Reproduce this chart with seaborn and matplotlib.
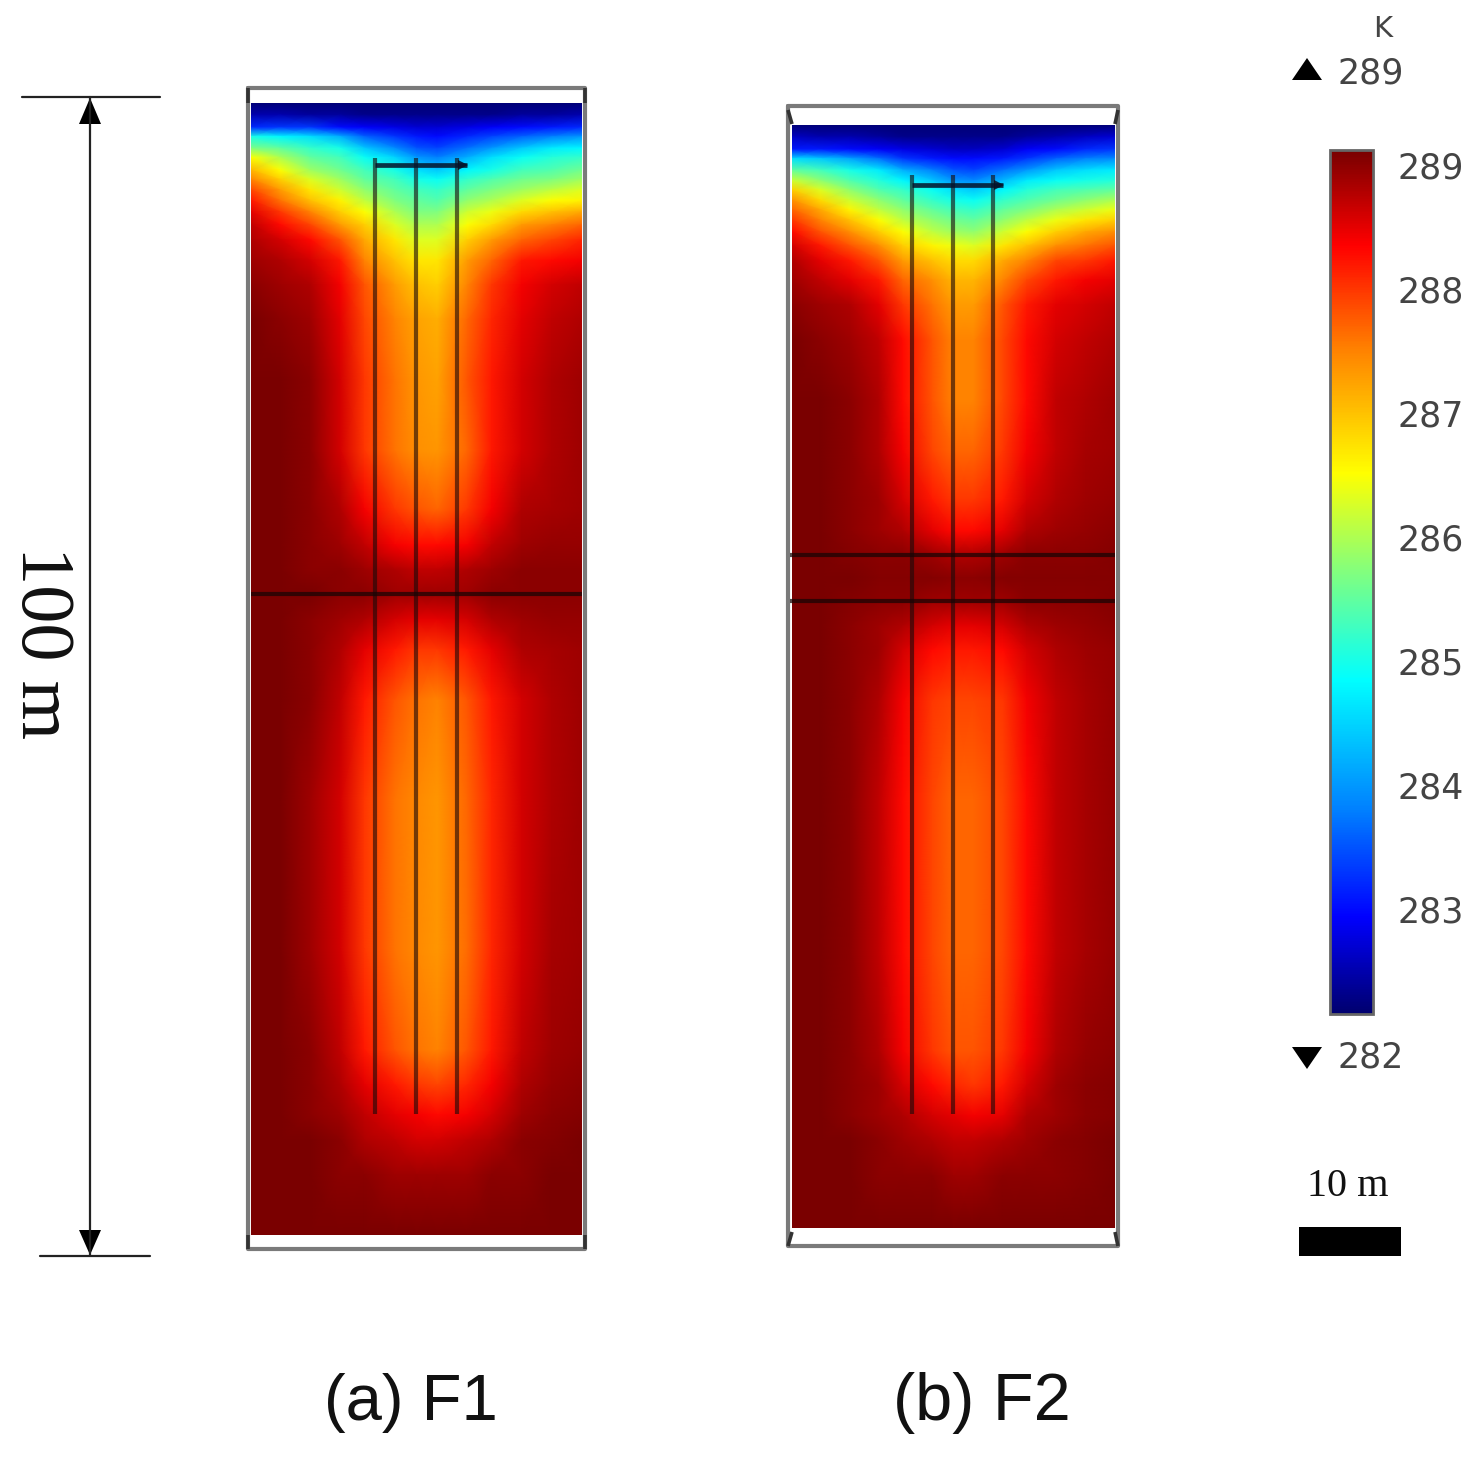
import numpy as np
import matplotlib
matplotlib.use("Agg")
import matplotlib.pyplot as plt
from matplotlib.colors import LinearSegmentedColormap
import seaborn as sns

W, H = 1484, 1462
T_MIN, T_MAX = 282.15, 289.12
CBAR_TICKS = [283, 284, 285, 286, 287, 288, 289]
PANEL_LABELS = ["(a) F1", "(b) F2"]

# colour ramp (fraction, RGB)
RAMP_POS = [0, 0.112, 0.236, 0.387, 0.510, 0.626, 0.771, 0.890, 1]
RAMP_RGB = ["#00006e", "#0000ff", "#0080ff", "#00ffff", "#80ff80", "#ffff00", "#ff8000", "#ff0000", "#780000"]

# horizontal position of each column, metres from the left of the domain
COLUMN_M = [0, 2.5, 5.1, 7.7, 9.8, 12.4, 14.3, 16.1, 18.7, 20.8, 23.4, 26.0, 28.6]

# panel (a): depth of each row (m) and temperature (K)
DEPTH_A = [0, 1.0, 2.1, 2.9, 3.9, 4.7, 5.8, 6.6, 7.5, 8.4, 9.4, 10.5, 11.8, 13.6, 15.7, 18.7,
           23.9, 30.0, 35.1, 38.2, 40.3, 42.4, 44.6, 47.2, 51.6, 60.2, 73.1, 81.8, 84.8,
           87.4, 89.6, 92.6, 97.8]
TEMP_A = [
    [282.2, 282.2, 282.2, 282.2, 282.2, 282.2, 282.2, 282.2, 282.2, 282.2, 282.2, 282.2, 282.2],
    [282.5, 282.5, 282.4, 282.4, 282.3, 282.3, 282.3, 282.3, 282.3, 282.3, 282.4, 282.4, 282.5],
    [283.2, 283.3, 283.3, 283.0, 282.9, 282.8, 282.7, 282.7, 282.8, 282.9, 283.0, 283.1, 283.2],
    [285.0, 284.8, 284.6, 284.2, 283.6, 283.3, 283.1, 283.0, 283.2, 283.4, 283.6, 283.8, 284.0],
    [285.7, 285.5, 285.2, 285.0, 284.4, 283.9, 283.5, 283.4, 283.7, 284.0, 284.4, 284.7, 284.8],
    [286.5, 286.0, 285.5, 285.3, 284.9, 284.5, 284.0, 283.8, 284.2, 284.6, 284.9, 285.1, 285.2],
    [287.1, 286.5, 285.9, 285.6, 285.3, 285.0, 284.6, 284.4, 284.8, 285.0, 285.3, 285.4, 285.6],
    [287.5, 286.9, 286.3, 285.9, 285.5, 285.3, 285.0, 284.9, 285.2, 285.4, 285.6, 285.7, 285.9],
    [287.9, 287.3, 286.7, 286.2, 285.8, 285.5, 285.3, 285.2, 285.5, 285.7, 285.9, 286.1, 286.3],
    [288.2, 287.6, 287.0, 286.6, 286.1, 285.7, 285.5, 285.4, 285.8, 286.0, 286.3, 286.5, 286.6],
    [288.5, 288.0, 287.5, 286.9, 286.5, 286.0, 285.7, 285.7, 286.2, 286.4, 286.8, 287.0, 287.2],
    [288.7, 288.3, 287.9, 287.3, 286.9, 286.3, 286.0, 286.0, 286.5, 286.8, 287.3, 287.5, 287.7],
    [288.8, 288.6, 288.3, 287.8, 287.2, 286.7, 286.3, 286.3, 286.9, 287.3, 287.7, 287.9, 288.1],
    [288.9, 288.8, 288.6, 288.2, 287.5, 287.0, 286.7, 286.7, 287.3, 287.7, 288.2, 288.3, 288.4],
    [289.0, 288.9, 288.8, 288.4, 287.8, 287.3, 287.0, 286.9, 287.5, 288.0, 288.4, 288.6, 288.7],
    [289.1, 289.0, 288.9, 288.5, 287.9, 287.5, 287.25, 287.15, 287.7, 288.1, 288.5, 288.7, 288.8],
    [289.1, 289.1, 289.0, 288.6, 288.0, 287.6, 287.35, 287.25, 287.8, 288.2, 288.6, 288.8, 288.9],
    [289.1, 289.1, 289.0, 288.6, 288.0, 287.6, 287.4, 287.35, 287.7, 288.2, 288.6, 288.8, 288.9],
    [289.1, 289.1, 289.0, 288.8, 288.4, 288.0, 287.8, 287.7, 288.0, 288.4, 288.8, 288.85, 288.9],
    [289.1, 289.1, 289.0, 288.9, 288.7, 288.4, 288.3, 288.3, 288.4, 288.7, 288.9, 288.95, 288.95],
    [289.1, 289.1, 289.0, 289.0, 288.9, 288.8, 288.7, 288.7, 288.8, 288.9, 289.0, 289.0, 289.0],
    [289.1, 289.1, 289.1, 289.0, 289.0, 288.9, 288.9, 288.9, 288.9, 289.0, 289.0, 289.0, 289.0],
    [289.1, 289.1, 289.0, 288.9, 288.8, 288.6, 288.5, 288.5, 288.6, 288.8, 288.9, 288.95, 288.95],
    [289.1, 289.1, 289.0, 288.8, 288.5, 288.2, 288.0, 288.0, 288.2, 288.5, 288.8, 288.85, 288.9],
    [289.1, 289.1, 289.0, 288.7, 288.2, 287.8, 287.6, 287.5, 287.8, 288.2, 288.6, 288.8, 288.9],
    [289.1, 289.1, 288.9, 288.6, 288.0, 287.6, 287.45, 287.35, 287.7, 288.1, 288.6, 288.8, 288.9],
    [289.1, 289.1, 288.9, 288.6, 288.0, 287.6, 287.45, 287.35, 287.65, 288.1, 288.6, 288.85, 288.9],
    [289.1, 289.1, 289.0, 288.7, 288.2, 287.8, 287.6, 287.5, 287.8, 288.2, 288.7, 288.9, 288.95],
    [289.1, 289.1, 289.0, 288.8, 288.5, 288.2, 288.0, 287.9, 288.1, 288.4, 288.8, 288.95, 289.0],
    [289.1, 289.1, 289.0, 288.9, 288.7, 288.5, 288.4, 288.3, 288.4, 288.6, 288.9, 289.0, 289.05],
    [289.1, 289.1, 289.1, 289.0, 288.8, 288.7, 288.6, 288.6, 288.7, 288.8, 289.0, 289.05, 289.1],
    [289.1, 289.1, 289.1, 289.0, 289.0, 288.9, 288.9, 288.9, 288.9, 289.0, 289.0, 289.1, 289.1],
    [289.1, 289.1, 289.1, 289.1, 289.1, 289.1, 289.1, 289.1, 289.1, 289.1, 289.1, 289.1, 289.1],
]

# panel (b): depth of each row (m) and temperature (K)
DEPTH_B = [0, 1.0, 2.1, 2.9, 3.9, 4.8, 5.6, 6.5, 7.3, 8.2, 9.2, 10.4, 11.7, 13.4, 15.5, 18.6,
           23.7, 28.1, 32.4, 35.0, 37.1, 39.1, 41.1, 43.2, 45.3, 49.7, 58.3, 71.3, 79.9,
           82.9, 85.5, 87.7, 90.7, 95.2]
TEMP_B = [
    [282.2, 282.2, 282.2, 282.2, 282.2, 282.2, 282.2, 282.2, 282.2, 282.2, 282.2, 282.2, 282.2],
    [282.6, 282.5, 282.5, 282.4, 282.3, 282.3, 282.3, 282.3, 282.3, 282.4, 282.5, 282.6, 282.7],
    [283.1, 283.1, 283.0, 282.9, 282.8, 282.7, 282.6, 282.6, 282.7, 282.9, 283.0, 283.2, 283.3],
    [284.6, 284.4, 284.1, 283.7, 283.3, 283.1, 283.0, 283.0, 283.1, 283.3, 283.6, 283.8, 283.9],
    [285.5, 285.3, 285.0, 284.7, 284.2, 283.8, 283.5, 283.4, 283.7, 284.0, 284.4, 284.6, 284.7],
    [286.2, 285.8, 285.4, 285.1, 284.8, 284.4, 284.0, 283.9, 284.3, 284.7, 284.9, 285.0, 285.1],
    [286.9, 286.3, 285.8, 285.4, 285.2, 284.9, 284.6, 284.4, 284.8, 285.1, 285.3, 285.4, 285.5],
    [287.4, 286.8, 286.2, 285.8, 285.5, 285.2, 285.0, 284.9, 285.2, 285.4, 285.6, 285.8, 286.0],
    [287.7, 287.2, 286.6, 286.1, 285.8, 285.5, 285.3, 285.2, 285.5, 285.7, 286.0, 286.2, 286.4],
    [288.0, 287.5, 287.0, 286.5, 286.1, 285.8, 285.6, 285.5, 285.8, 286.1, 286.4, 286.7, 286.9],
    [288.3, 287.8, 287.4, 286.9, 286.5, 286.1, 285.9, 285.8, 286.2, 286.5, 286.9, 287.2, 287.4],
    [288.6, 288.2, 287.8, 287.4, 286.9, 286.6, 286.4, 286.3, 286.7, 287.0, 287.4, 287.6, 287.8],
    [288.8, 288.5, 288.2, 287.8, 287.3, 287.0, 286.8, 286.8, 287.2, 287.5, 287.9, 288.0, 288.2],
    [288.9, 288.7, 288.5, 288.2, 287.7, 287.4, 287.1, 287.1, 287.5, 287.9, 288.2, 288.4, 288.5],
    [289.0, 288.9, 288.8, 288.5, 288.0, 287.6, 287.3, 287.3, 287.8, 288.2, 288.5, 288.6, 288.7],
    [289.1, 289.0, 288.9, 288.7, 288.3, 287.8, 287.5, 287.5, 287.9, 288.3, 288.6, 288.7, 288.8],
    [289.1, 289.1, 289.0, 288.8, 288.3, 287.8, 287.5, 287.5, 287.9, 288.3, 288.7, 288.8, 288.9],
    [289.1, 289.1, 289.0, 288.8, 288.4, 287.9, 287.7, 287.7, 288.0, 288.4, 288.7, 288.85, 288.9],
    [289.1, 289.1, 289.0, 288.9, 288.6, 288.2, 288.0, 288.0, 288.2, 288.6, 288.8, 288.9, 288.95],
    [289.1, 289.1, 289.0, 288.9, 288.8, 288.5, 288.3, 288.3, 288.5, 288.8, 288.9, 288.95, 289.0],
    [289.1, 289.1, 289.05, 289.0, 289.0, 288.9, 288.8, 288.8, 288.9, 289.0, 289.0, 289.0, 289.05],
    [289.1, 289.1, 289.1, 289.05, 289.05, 289.05, 289.0, 289.0, 289.05, 289.05, 289.05, 289.05, 289.05],
    [289.1, 289.1, 289.05, 289.0, 289.0, 288.9, 288.9, 288.9, 288.9, 289.0, 289.0, 289.0, 289.05],
    [289.1, 289.1, 289.0, 288.9, 288.8, 288.6, 288.5, 288.5, 288.6, 288.8, 288.9, 288.95, 289.0],
    [289.1, 289.1, 289.0, 288.9, 288.6, 288.3, 288.2, 288.2, 288.3, 288.6, 288.8, 288.9, 288.95],
    [289.1, 289.1, 289.0, 288.8, 288.4, 288.0, 287.9, 287.9, 288.0, 288.4, 288.7, 288.85, 288.95],
    [289.1, 289.1, 289.0, 288.7, 288.3, 287.9, 287.7, 287.7, 287.9, 288.3, 288.7, 288.85, 288.95],
    [289.1, 289.1, 289.0, 288.7, 288.3, 287.9, 287.7, 287.7, 287.9, 288.3, 288.7, 288.85, 288.95],
    [289.1, 289.1, 289.0, 288.8, 288.4, 288.0, 287.8, 287.8, 288.0, 288.4, 288.8, 288.95, 289.0],
    [289.1, 289.1, 289.0, 288.9, 288.6, 288.3, 288.1, 288.0, 288.2, 288.6, 288.9, 289.0, 289.05],
    [289.1, 289.1, 289.0, 288.9, 288.8, 288.6, 288.5, 288.4, 288.5, 288.8, 288.9, 289.0, 289.05],
    [289.1, 289.1, 289.1, 289.0, 288.9, 288.8, 288.7, 288.7, 288.8, 288.9, 289.0, 289.05, 289.1],
    [289.1, 289.1, 289.1, 289.0, 289.0, 289.0, 288.9, 288.9, 289.0, 289.0, 289.0, 289.05, 289.1],
    [289.1, 289.1, 289.1, 289.1, 289.1, 289.1, 289.1, 289.1, 289.1, 289.1, 289.1, 289.1, 289.1],
]

sns.set_theme(style="white")
plt.rcParams["font.family"] = ["DejaVu Sans"]
fig = plt.figure(figsize=(W / 100, H / 100), dpi=100, facecolor="white")
CMAP = LinearSegmentedColormap.from_list("comsol_rainbow", list(zip(RAMP_POS, RAMP_RGB)), N=512)


def px_axes(x0, y0, x1, y1, **kw):
    return fig.add_axes([x0 / W, 1 - y1 / H, (x1 - x0) / W, (y1 - y0) / H], **kw)


def field(box, depth, temp, **kw):
    ax = px_axes(*box)
    sns.heatmap(np.array(temp), ax=ax, cmap=CMAP, vmin=T_MIN, vmax=T_MAX, shading="gouraud",
                xticklabels=False, yticklabels=False, **kw)
    rows = np.arange(len(depth), dtype=float)
    cols = np.arange(len(COLUMN_M), dtype=float)
    ax.set_yscale("function", functions=(lambda v: np.interp(v, rows, depth),
                                         lambda v: np.interp(v, depth, rows)))
    ax.set_xscale("function", functions=(lambda v: np.interp(v, cols, COLUMN_M),
                                         lambda v: np.interp(v, COLUMN_M, cols)))
    ax.set_xlim(0, len(COLUMN_M) - 1)
    ax.set_ylim(len(depth) - 1, 0)
    ax.set_xticks([])
    ax.set_yticks([])
    ax.set_xlabel("")
    ax.set_ylabel("")
    ax.minorticks_off()
    ax.axis("off")
    return ax


cax = px_axes(1330, 150, 1373, 1014)
ax_a = field((251, 103, 582, 1235), DEPTH_A, TEMP_A, cbar=True, cbar_ax=cax)
ax_b = field((792, 125, 1115, 1228), DEPTH_B, TEMP_B, cbar=False)

cbar = ax_a.collections[0].colorbar
cbar.set_ticks(CBAR_TICKS)
cbar.set_ticklabels([str(t) for t in CBAR_TICKS])
cbar.ax.minorticks_off()
cbar.ax.tick_params(which="major", direction="in", length=7, width=1.6, color="#00000099",
                    left=True, right=True, labelleft=False, labelright=True, pad=18,
                    labelsize=25, labelcolor="#444444")
cbar.outline.set_edgecolor("#666666")
cbar.outline.set_linewidth(2.0)

# overlay in pixel coordinates for frames, pipes and annotation
ov = fig.add_axes([0, 0, 1, 1], facecolor="none", zorder=5)
ov.set_xlim(0, W)
ov.set_ylim(H, 0)
ov.axis("off")

FRAME = "#7a7a7a"
for x0, y0, x1, y1 in [(248, 88, 585, 1249), (788, 106, 1118, 1246)]:
    ov.plot([x0, x1, x1, x0, x0], [y0, y0, y1, y1, y0], color=FRAME, lw=3, solid_joinstyle="round")
# dark corner pieces of the frames
for xa, xb, ya, yb in [(248, 248, 88, 103), (585, 585, 88, 103), (248, 248, 1235, 1249), (585, 585, 1235, 1249),
                       (788, 792, 110, 124), (1118, 1115, 110, 124), (788, 792, 1246, 1232), (1118, 1115, 1246, 1232)]:
    ov.plot([xa, xb], [ya, yb], color="#333333", lw=2.6, solid_capstyle="butt")

# pipes
for xs, top, head_y, head_end, bands in [
    ((375, 416, 457), 158, 165, 467, (594,)),
    ((912, 953, 993), 175, 185, 1003, (555, 601)),
]:
    for x in xs:
        ov.plot([x, x], [top, 1114], color="#1a0a0a", alpha=0.62, lw=3.0, solid_capstyle="butt")
    ov.plot([xs[0], head_end], [head_y, head_y], color="#06122a", alpha=0.85, lw=3.4,
            solid_capstyle="butt")
    ov.fill([head_end - 9, head_end + 1, head_end - 9],
            [head_y - 5, head_y, head_y + 5], color="#06122a", alpha=0.85, lw=0)
    for yb in bands:
        x0 = 251 if xs[0] < 500 else 790
        x1 = 582 if xs[0] < 500 else 1115
        ov.plot([x0, x1], [yb, yb], color="#150505", alpha=0.72, lw=3.0, solid_capstyle="butt")

# 100 m dimension
DIM = "#222222"
ov.plot([22, 160], [97, 97], color=DIM, lw=1.6)
ov.plot([40, 150], [1255.5, 1255.5], color=DIM, lw=1.6)
ov.plot([90, 90], [97, 1255], color=DIM, lw=1.6)
ov.fill([90, 79, 101], [98, 124, 124], color="black", lw=0)
ov.fill([90, 79, 101], [1255, 1230, 1230], color="black", lw=0)
ov.text(40, 643, "100 m", rotation=270, ha="center", va="center", fontsize=55, color="#111111",
        family="Liberation Serif")

# range markers and unit
ov.text(1383, 29, "K", ha="center", va="center", fontsize=21, color="#444444")
ov.fill([1307, 1292, 1322], [58, 80, 80], color="black", lw=0)
ov.fill([1307, 1292, 1322], [1069, 1047, 1047], color="black", lw=0)
ov.text(1371, 73, "289", ha="center", va="center", fontsize=25, color="#444444")
ov.text(1371, 1058, "282", ha="center", va="center", fontsize=25, color="#444444")

# scale bar
ov.text(1348, 1187, "10 m", ha="center", va="center", fontsize=29, color="#111111",
        family="Liberation Serif")
ov.fill([1299, 1401, 1401, 1299], [1227, 1227, 1256, 1256], color="black", lw=0)

# panel captions
ov.text(411, 1403, PANEL_LABELS[0], ha="center", va="center", fontsize=47, color="#111111",
        family="Liberation Sans")
ov.text(981.5, 1403, PANEL_LABELS[1], ha="center", va="center", fontsize=48, color="#111111",
        family="Liberation Sans")

fig.savefig("out.png", dpi=100, facecolor="white")
